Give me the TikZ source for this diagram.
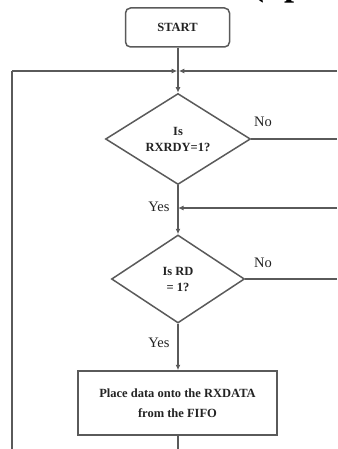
\documentclass[tikz,border=0pt]{standalone}
\usepackage{fontspec}
\setmainfont{Liberation Serif}
\usetikzlibrary{shapes.geometric,arrows.meta}
\definecolor{lc}{RGB}{90,90,90}
\definecolor{tc}{RGB}{35,35,35}
\begin{document}
\begin{tikzpicture}[x=1pt,y=1pt,
  line/.style={draw=lc, line width=1.5pt},
  arr/.style={line, -{Latex[length=5.5pt,width=5pt]}},
  boxtext/.style={text=tc, font=\fontsize{12.5}{20}\selectfont\bfseries, align=center},
  decision/.style={shape=diamond, line, inner sep=0pt, text=tc,
    font=\fontsize{12.5}{16}\selectfont\bfseries, align=center},
  lbl/.style={text=tc, font=\fontsize{14.5}{16}\selectfont, inner sep=0pt}]
\useasboundingbox (0,0) rectangle (337,-449);
% partly visible heading at the top edge
\node[anchor=base west, text=black, inner sep=0pt,
  font=\fontsize{36}{40}\selectfont\bfseries] (head) at (252,4) {(up};
% nodes
\node[line, rounded corners=5pt, minimum width=104pt, minimum height=39pt,
  inner sep=0pt, boxtext] (start) at (177.5,-27.5) {START};
\node[decision, minimum width=145pt, minimum height=91pt] (d1) at (178,-139) {Is\\RXRDY=1?};
\node[decision, minimum width=133pt, minimum height=88pt] (d2) at (178,-279) {Is RD\\= 1?};
\node[line, minimum width=199pt, minimum height=64pt, inner sep=0pt, boxtext]
  (place) at (177.5,-403) {Place data onto the RXDATA\\from the FIFO};
% free ends
\coordinate (J) at (178,-71);
\coordinate (TL) at (12,-71);
\coordinate (TR) at (337,-71);
\coordinate (LB) at (12,-449);
\coordinate (J2) at (178,-208);
\coordinate (R1) at (337,-139);
\coordinate (R2) at (337,-208);
\coordinate (R3) at (337,-279);
\coordinate (B) at (178,-449);
% connectors
\draw[line] (TL) -- (LB);
\draw[arr] (TL) -- ([xshift=-0.8pt]J);
\draw[arr] (TR) -- ([xshift=0.8pt]J);
\draw[arr] (start.south -| J) -- (d1.north);
\draw[line] (d1.east) -- (R1);
\draw[arr] (R2) -- (J2);
\draw[arr] (d1.south) -- (d2.north);
\draw[line] (d2.east) -- (R3);
\draw[arr] (d2.south) -- (place.north -| d2.south);
\draw[line] (place.south -| B) -- (B);
% labels
\node[lbl] (no1) at (263,-122) {No};
\node[lbl] (yes1) at (159,-207) {Yes};
\node[lbl] (no2) at (263,-263) {No};
\node[lbl] (yes2) at (159,-343) {Yes};
\end{tikzpicture}
\end{document}
